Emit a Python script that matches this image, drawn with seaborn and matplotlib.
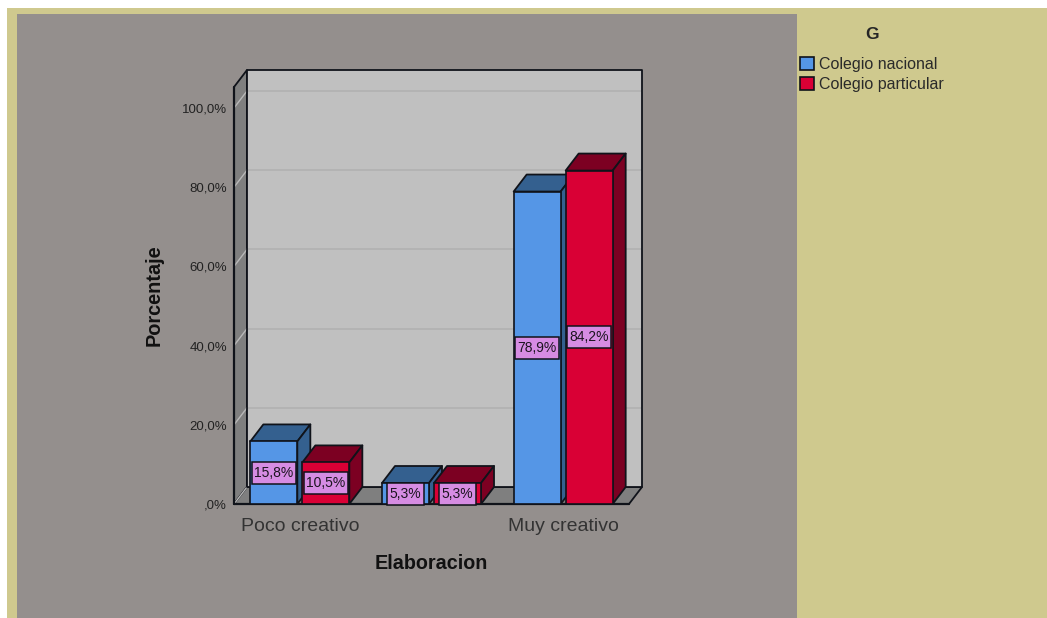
import matplotlib
matplotlib.use("Agg")
import matplotlib.pyplot as plt
from matplotlib.patches import Polygon, Rectangle
from matplotlib.path import Path
import pandas as pd
import seaborn as sns

categories = ["Poco creativo", " ", "Muy creativo"]
nacional = [15.8, 5.3, 78.9]
particular = [10.5, 5.3, 84.2]
series_names = ["Colegio nacional", "Colegio particular"]
y_ticks = [0, 20, 40, 60, 80, 100]
y_tick_labels = [",0%", "20,0%", "40,0%", "60,0%", "80,0%", "100,0%"]

W, H = 1047, 618
OLIVE, GREY = "#cfc98e", "#948f8d"
FRONT = ["#5596e6", "#d90035"]
DARK = ["#34608f", "#7c0022"]
PINK = "#d68ce3"
EDGE = "#10131a"
WALL, FLOOR, BACK = "#7f7f7f", "#7f7f7f", "#c0c0c0"

sns.set_theme(style="white")
plt.rcParams["font.family"] = ["Liberation Sans", "DejaVu Sans"]

fig = plt.figure(figsize=(W / 100, H / 100), dpi=100, facecolor="white")


def box(x0, y0, x1, y1):
    return (x0 / W, 1 - y1 / H, (x1 - x0) / W, (y1 - y0) / H)


for (x0, y0, x1, y1), c in [((7, 8, W, H), OLIVE), ((17, 14, 797, H), GREY)]:
    l, b, w, h = box(x0, y0, x1, y1)
    fig.add_artist(Rectangle((l, b), w, h, transform=fig.transFigure, fc=c, ec="none", zorder=-5))

ax = fig.add_axes(box(234, 87, 629, 504))
ax.patch.set_visible(False)

df = pd.DataFrame({
    "cat": categories * 2,
    "val": nacional + particular,
    "G": [series_names[0]] * 3 + [series_names[1]] * 3,
})
sns.barplot(data=df, x="cat", y="val", hue="G", hue_order=series_names, palette=FRONT,
            saturation=1, width=0.79, gap=0.096, legend=False, ax=ax,
            edgecolor=EDGE, linewidth=1.2, zorder=5)

ax.set_xlim(-0.5, 2.5)
ax.set_ylim(0, 105.3)
ddx = 13 * 3 / 395
ddy = 17 * 105.3 / 417
xa, xb = ax.get_xlim()
ya, yb = ax.get_ylim()


def poly(pts, fc, ec=EDGE, lw=1.3, z=1):
    ax.add_patch(Polygon(pts, closed=True, fc=fc, ec=ec, lw=lw, zorder=z, clip_on=False, joinstyle="round"))


def label_box(x0, y0, width, height, mutation_size=1.0):
    px, py = 2.5, 4
    l, r, b, t = x0 - px, x0 + width + px, y0 - py, y0 + height + py
    return Path([(l, b), (r, b), (r, t), (l, t), (l, b)], closed=True)


# walls and floor
back_wall = [(xa + ddx, ya + ddy), (xb + ddx, ya + ddy), (xb + ddx, yb + ddy), (xa + ddx, yb + ddy)]
poly([(xa, ya), (xa + ddx, ya + ddy), (xa + ddx, yb + ddy), (xa, yb)], WALL)
poly([(xa, ya), (xb, ya), (xb + ddx, ya + ddy), (xa + ddx, ya + ddy)], FLOOR)
poly(back_wall, BACK, ec="none")
for t in y_ticks[1:]:
    ax.plot([xa + ddx, xb + ddx], [t + ddy, t + ddy], color="#b2b2b2", lw=1.3, zorder=2, clip_on=False)
for t in y_ticks:
    ax.plot([xa, xa + ddx], [t, t + ddy], color="#b8b8b8", lw=1, zorder=2, clip_on=False)
poly(back_wall, "none", z=2.5)
ax.plot([xa, xa], [ya, yb], color=EDGE, lw=1.6, zorder=3, clip_on=False)
ax.plot([xa, xb], [ya, ya], color=EDGE, lw=1.6, zorder=3, clip_on=False)

# depth faces, painted from left to right
bars = []
for i, cont in enumerate(ax.containers):
    for p in cont.patches:
        bars.append((p.get_x(), p, i))
for n, (x, p, i) in enumerate(sorted(bars, key=lambda b: b[0])):
    w, h = p.get_width(), p.get_height()
    z = 5 + n * 0.1
    poly([(x, h), (x + w, h), (x + w + ddx, h + ddy), (x + ddx, h + ddy)], DARK[i], z=z)
    poly([(x + w, 0), (x + w + ddx, ddy), (x + w + ddx, h + ddy), (x + w, h)], DARK[i], z=z)
    p.set_zorder(z + 0.05)

# value labels
for cont in ax.containers:
    labels = [f"{v:.1f}%".replace(".", ",") for v in cont.datavalues]
    for t in ax.bar_label(cont, labels=labels, label_type="center", fontsize=10, color="#1c1420",
                          bbox=dict(boxstyle=label_box, fc=PINK, ec=EDGE, lw=1.1)):
        t.set_zorder(10)

sns.despine(ax=ax, left=True, bottom=True)
ax.set_yticks(y_ticks, y_tick_labels, fontsize=9.5, color="#222222")
ax.tick_params(axis="y", length=0, pad=5)
ax.tick_params(axis="x", length=0, pad=10, labelsize=14, labelcolor="#333333")
ax.set_xlabel("Elaboracion", fontsize=14.2, fontweight="bold", color="#111111", labelpad=14)
ax.set_ylabel("Porcentaje", fontsize=14.3, fontweight="bold", color="#111111", labelpad=13)

leg = fig.legend(ax.containers, series_names, title="G", loc="upper left",
                 bbox_to_anchor=(795 / W, 1 - 22 / H), frameon=False, fontsize=11.5,
                 handlelength=0.9, handleheight=0.9, handletextpad=0.3, labelspacing=0.3,
                 borderpad=0.3, borderaxespad=0, labelcolor="#2a2a2a",
                 title_fontproperties={"weight": "bold", "size": 12.5})
leg._legend_box.sep = 11

fig.savefig("out.png", dpi=100, facecolor=fig.get_facecolor())
